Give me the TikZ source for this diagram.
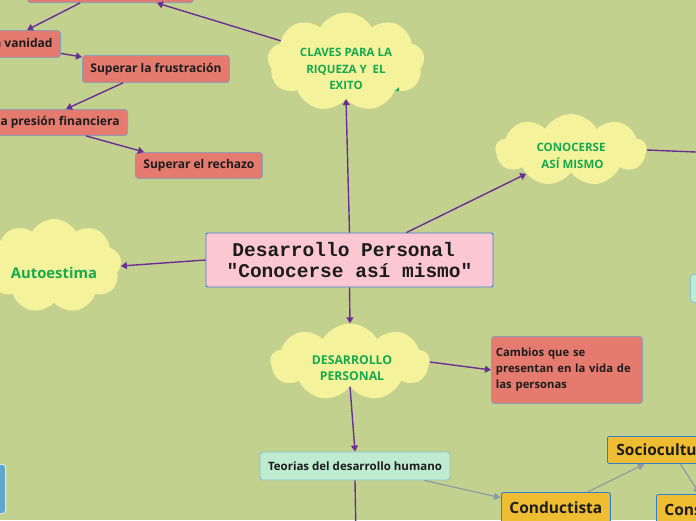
\documentclass[tikz,border=0pt]{standalone}
\usepackage{fontspec}
\setmainfont{Open Sans}
\newfontfamily\cenfont{Liberation Mono}
\usepackage{tikz}
\usetikzlibrary{arrows.meta,shapes.symbols}
\definecolor{cBg}{HTML}{C3D18E}
\definecolor{cCloud}{HTML}{F5F29C}
\definecolor{cGreen}{HTML}{17A94E}
\definecolor{cRedF}{HTML}{E57B6F}
\definecolor{cRedL}{HTML}{8C9DB6}
\definecolor{cPurple}{HTML}{6A2F93}
\definecolor{cMintF}{HTML}{BFEBD0}
\definecolor{cMintL}{HTML}{86C6C8}
\definecolor{cPinkF}{HTML}{FBC7D3}
\definecolor{cPinkL}{HTML}{3C80D6}
\definecolor{cOrgF}{HTML}{EFBD32}
\definecolor{cOrgL}{HTML}{2F7ED2}
\definecolor{cGrey}{HTML}{8E9AA4}
\definecolor{cBlueF}{HTML}{5FA6CD}
\definecolor{cInk}{HTML}{1C1C1C}
\tikzset{
  mmcloud/.style={cloud,cloud puffs=9,cloud puff arc=120,cloud ignores aspect,
      fill=cCloud,draw=none,inner sep=0pt},
  mmcloudtxt/.style={font=\bfseries\fontsize{11.5}{16.5}\selectfont,text=cGreen,
      align=center,inner sep=0pt},
  mmbox/.style={rounded corners=3pt,line width=0.9pt,text=cInk,inner xsep=8pt,
      font=\bfseries\fontsize{12}{14}\selectfont},
  mmred/.style={mmbox,draw=cRedL,fill=cRedF,minimum height=27pt},
  mmmint/.style={mmbox,draw=cMintL,fill=cMintF,minimum height=28pt,
      font=\bfseries\fontsize{11.5}{13}\selectfont},
  mmorange/.style={mmbox,draw=cOrgL,fill=cOrgF,rounded corners=2pt,
      font=\bfseries\fontsize{15.5}{18}\selectfont},
  mmcenter/.style={draw=cPinkL,fill=cPinkF,rounded corners=2pt,line width=0.9pt,
      minimum width=287pt,minimum height=54pt,align=center,text=cInk,
      font=\cenfont\bfseries\fontsize{19.5}{21.5}\selectfont},
  mmlink/.style={-{Triangle[length=6pt,width=7pt]},draw=cPurple,line width=1.4pt},
  mmlinkg/.style={-{Triangle[length=7pt,width=7pt]},draw=cGrey,line width=1.2pt},
}

\begin{document}
\begin{tikzpicture}[x=1pt,y=-1pt]
  \useasboundingbox (0,0) rectangle (696,520);
  \clip (0,0) rectangle (696,520);
  \fill[cBg] (0,0) rectangle (696,520);

  % clouds
  \node[mmcloud,minimum width=157pt,minimum height=99pt,
    label={[mmcloudtxt,yshift=-7pt]center:{CLAVES PARA LA\\RIQUEZA Y\ \ EL\\EXITO}}]
    (claves) at (346,62) {};
  \fill[cGreen] (395,91) -- (399,91) -- (399,87) -- cycle;
  \node[mmcloud,minimum width=151pt,minimum height=72pt,
    label={[mmcloudtxt,yshift=-6pt]center:{CONOCERSE\\\ ASÍ MISMO}}]
    (cono) at (571,150) {};
  \node[mmcloud,minimum width=135pt,minimum height=94pt,
    label={[mmcloudtxt,font=\bfseries\fontsize{14.8}{17}\selectfont,yshift=-7pt]center:Autoestima}]
    (autoe) at (54,266) {};
  \node[mmcloud,minimum width=159pt,minimum height=77pt,
    label={[mmcloudtxt,font=\bfseries\fontsize{12.2}{16}\selectfont,xshift=2pt,yshift=-6pt]center:{DESARROLLO\\PERSONAL}}]
    (desa) at (350,362) {};

  % center
  \node[mmcenter] (cen) at (349.5,260)
    {Desarrollo Personal\hphantom{x}\\"Conocerse así mismo"};

  % red boxes, top left
  \node[mmred,anchor=south west,minimum width=166pt] (topbox) at (27,3) {};
  \node[mmred,anchor=north east] (vanidad) at (61,30) {Superar la vanidad};
  \node[mmred,anchor=north west] (frustr) at (82,55) {Superar la frustración};
  \node[mmred,anchor=north east,minimum height=26pt] (financ) at (128,109)
    {Superar la presión financiera};
  \node[mmred,anchor=north west,minimum height=26pt] (rechazo) at (135,152)
    {Superar el rechazo};
  \node[mmred,anchor=north west,minimum width=151pt,minimum height=67pt,
    text width=142pt,align=left,inner xsep=4.5pt,
    font=\bfseries\fontsize{11.3}{16}\selectfont] (cambios) at (491,336)
    {Cambios que se\\presentan en la vida de\\las personas};

  % theories
  \node[mmmint,minimum width=189pt] (teorias) at (355,466)
    {Teorias del desarrollo humano};
  \node[mmorange,anchor=north west,minimum width=108pt,minimum height=30pt]
    (cond) at (501,492) {Conductista};
  \node[mmorange,anchor=north west,minimum height=27pt,inner xsep=9pt]
    (socio) at (607,436) {Sociocultural};
  \node[mmorange,anchor=north west,minimum height=30pt]
    (con) at (656,494) {Constructivista};

  % cut boxes at the edges
  \node[mmmint,anchor=north west,minimum width=80pt] (mintR) at (690,274) {};
  \node[rounded corners=3pt,line width=0.9pt,draw=white!75!cBlueF,fill=cBlueF,
    anchor=north east,minimum width=60pt,minimum height=49pt] (blueL) at (6,464) {};
  \coordinate (conoR) at (720,153);
  \coordinate (teoriasB) at (356,540);

  % links
  \draw[mmlink] (cen.north) -- (claves.south);
  \draw[mmlink] ([xshift=57pt]cen.north) -- (cono.-152);
  \draw[mmlink] (cen.west) -- (autoe.east);
  \draw[mmlink] (cen.south) -- (desa.north);
  \draw[mmlink] (desa.east) -- (cambios.west);
  \draw[mmlink] (desa.south) -- (teorias.north);
  \draw[mmlink] (teorias.south) -- (teoriasB);
  \draw[mmlink] (cono.east) -- (conoR);
  \draw[mmlink] (claves.162) -- ([xshift=-37pt]topbox.south east);
  \draw[mmlink] ([xshift=53pt]topbox.south west) -- ([xshift=-34pt]vanidad.north east);
  \draw[mmlink] ([yshift=-9.5pt]vanidad.east) -- ([yshift=-2pt]frustr.north west);
  \draw[mmlink] ([xshift=41pt]frustr.south west) -- ([xshift=-62pt]financ.north east);
  \draw[mmlink] ([xshift=-42pt]financ.south east) -- ([xshift=9pt]rechazo.north west);

  \draw[mmlinkg] ([xshift=-26pt]teorias.south east) -- (cond.170);
  \draw[mmlinkg] (cond.26) -- (socio.212);
  \draw[mmlinkg] (socio.-46) -- (con.147);
\end{tikzpicture}
\end{document}
